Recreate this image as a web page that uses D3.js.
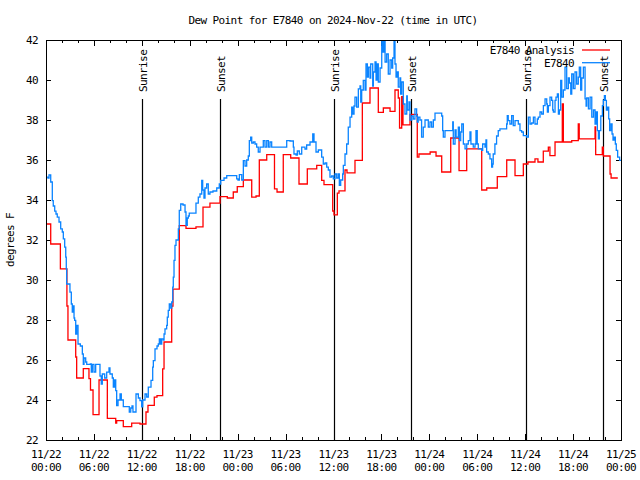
<!DOCTYPE html>
<html>
<head>
<meta charset="utf-8">
<script src="https://cdn.jsdelivr.net/npm/d3@7"></script>
<style>
  body { margin: 0; background: #fff; }
  text { font-family: "DejaVu Sans Mono", monospace; font-size: 11px; letter-spacing: -0.6px; fill: #000; }
</style>
</head>
<body>
<div id="chart"></div>
<script>
// hours since 2024-11-22 00:00 UTC
const redHours = [0, 0.59, 1.8, 2.62, 2.75, 3.72, 3.84, 4.67, 5.38, 5.57, 5.89, 6.64, 7.68, 8.73, 8.85, 9.68, 10.73, 11.77, 12.52, 12.77,
  13.56, 13.9, 14.61, 14.78, 15.74, 15.9, 16.69, 17.53, 18.78, 19.66, 20.53, 21.79, 22.7, 23.45, 23.95, 24.71, 25.76, 26.3, 26.71, 27.64,
  28.61, 28.93, 29.71, 30.64, 31.68, 32.72, 33.9, 34.52, 34.81, 35.9, 36.06, 36.48, 36.69, 37.44, 37.69, 38.69, 39.61, 40.57, 41.61, 42.24,
  43.08, 43.7, 44.11, 44.27, 44.54, 44.7, 45.58, 46.49, 46.7, 48.1, 48.84, 49.55, 50.68, 51.72, 52.68, 54.56, 55.19, 56.51, 57.69, 58.73,
  59.77, 60.35, 61.23, 61.6, 62.27, 62.9, 63.1, 63.74, 64.65, 64.78, 65.83, 66.65, 66.77, 68.75, 68.83, 69.66, 69.79, 70.63, 70.76, 71.6];
const redValues = [32.8, 31.8, 30.56, 28.7, 27.0, 26.15, 25.1, 25.57, 25.07, 24.5, 23.27, 25.0, 23.08, 22.85, 22.97, 22.67, 22.84, 22.8, 23.4, 23.73,
  24.14, 24.22, 25.56, 26.9, 28.69, 29.54, 32.72, 32.58, 32.66, 33.64, 33.84, 34.17, 34.1, 34.4, 34.67, 35.0, 34.14, 34.2, 36.0, 36.27,
  34.56, 34.4, 36.27, 36.1, 34.8, 35.56, 35.73, 34.98, 34.77, 33.45, 33.26, 34.34, 34.46, 35.5, 35.36, 35.98, 38.85, 39.6, 38.38, 38.6,
  38.43, 39.5, 39.1, 37.6, 39.17, 37.76, 38.28, 36.14, 36.3, 36.4, 36.2, 35.4, 37.1, 35.47, 36.56, 34.5, 34.6, 35.17, 36.0, 35.22,
  35.8, 35.9, 36.06, 35.9, 36.44, 36.64, 36.22, 36.9, 38.8, 36.9, 36.97, 37.8, 37.06, 37.65, 36.27, 36.64, 36.2, 35.3, 35.1, 35.1];

const blueHours = [0, 0.25, 0.38, 0.59, 0.79, 0.91, 1.09, 1.25, 1.41, 1.63, 1.84, 2.04, 2.17, 2.34, 2.47, 2.54, 2.59, 3.0, 3.17, 3.29,
  3.42, 3.51, 3.59, 3.72, 3.84, 4.01, 4.3, 4.55, 4.67, 4.76, 4.97, 5.1, 5.55, 5.67, 5.8, 6.01, 6.22, 6.76, 6.92, 7.05,
  7.35, 7.6, 7.89, 8.01, 8.3, 8.43, 8.6, 8.73, 8.85, 9.02, 9.27, 9.43, 9.68, 10.43, 10.61, 10.77, 10.89, 11.27, 11.56, 11.77,
  11.98, 12.11, 12.4, 12.61, 12.81, 13.15, 13.36, 13.44, 13.65, 13.9, 14.06, 14.19, 14.36, 14.49, 14.69, 14.78, 14.9, 15.11, 15.19, 15.31,
  15.44, 15.62, 15.74, 15.87, 15.94, 16.03, 16.15, 16.28, 16.57, 16.69, 16.87, 17.16, 17.41, 17.53, 17.69, 17.82, 17.94, 18.78, 19.07, 19.28,
  19.5, 19.62, 19.78, 19.91, 20.12, 20.32, 20.53, 20.91, 21.38, 21.7, 21.88, 22.29, 22.63, 23.88, 24.04, 24.21, 24.51, 24.71, 24.92, 25.13,
  25.33, 25.46, 25.63, 25.76, 25.96, 26.17, 26.38, 26.58, 26.8, 27.21, 27.42, 27.64, 27.85, 28.05, 28.26, 30.14, 30.55, 30.97, 31.05, 31.31,
  31.47, 31.72, 32.02, 32.43, 32.64, 33.06, 33.4, 33.56, 33.81, 34.1, 34.52, 34.72, 34.94, 35.15, 35.35, 35.56, 35.77, 35.98, 36.19, 36.4,
  36.6, 36.73, 36.9, 37.15, 37.23, 37.44, 37.65, 37.85, 38.07, 38.28, 38.4, 38.57, 38.69, 38.9, 39.11, 39.32, 39.41, 39.53, 39.73, 39.95,
  40.07, 40.24, 40.36, 40.57, 40.66, 40.91, 40.99, 41.2, 41.33, 41.49, 41.61, 41.83, 42.04, 42.17, 42.33, 42.46, 42.66, 42.86, 43.08, 43.29,
  43.41, 43.58, 43.7, 43.83, 43.99, 44.11, 44.32, 44.41, 44.54, 44.74, 44.95, 45.17, 45.24, 45.45, 45.58, 45.79, 45.99, 46.2, 46.41, 46.49,
  46.61, 46.82, 47.03, 47.24, 47.46, 47.87, 48.08, 48.29, 48.5, 48.71, 49.55, 49.67, 49.75, 49.96, 50.93, 51.0, 51.22, 51.35, 51.63, 51.76,
  51.93, 52.06, 52.26, 52.47, 52.68, 52.88, 53.09, 53.21, 53.5, 53.72, 53.84, 54.0, 54.13, 54.55, 54.68, 54.97, 55.09, 55.18, 55.38, 55.59,
  55.8, 55.92, 56.0, 56.21, 56.42, 56.63, 56.84, 57.68, 57.76, 57.88, 58.09, 58.31, 58.51, 58.73, 59.14, 59.35, 59.56, 59.77, 60.19, 60.4,
  60.61, 60.82, 61.03, 61.23, 61.52, 61.65, 61.86, 62.07, 62.28, 62.49, 62.7, 62.78, 62.9, 63.11, 63.32, 63.45, 63.53, 63.74, 63.86, 64.03,
  64.16, 64.28, 64.45, 64.58, 64.78, 64.99, 65.2, 65.41, 65.53, 65.71, 65.83, 66.03, 66.24, 66.45, 66.65, 66.78, 66.95, 67.08, 67.29, 67.5,
  67.63, 67.71, 67.92, 68.13, 68.34, 68.55, 68.75, 68.88, 69.04, 69.17, 69.29, 69.47, 69.67, 69.79, 69.92, 70.04, 70.17, 70.33, 70.46, 70.58,
  70.75, 70.88, 71.0, 71.16, 71.29, 71.41, 71.58, 71.83, 72.0];
const blueValues = [35.14, 35.1, 35.26, 34.9, 33.97, 33.7, 33.44, 33.3, 33.14, 32.9, 32.56, 32.4, 32.06, 31.64, 31.14, 30.56, 29.8, 29.39, 28.8, 28.4,
  28.7, 28.1, 27.98, 27.3, 27.73, 26.8, 26.7, 26.3, 25.78, 26.1, 25.9, 25.78, 25.8, 25.4, 25.78, 25.4, 25.78, 25.2, 24.8, 25.3,
  25.1, 25.39, 25.6, 25.3, 25.1, 24.64, 25.0, 24.47, 23.72, 24.0, 24.3, 24.0, 23.67, 23.39, 23.6, 23.7, 23.4, 24.3, 24.1, 23.97,
  23.66, 24.0, 24.3, 24.15, 24.64, 24.98, 25.64, 25.97, 26.56, 26.7, 26.8, 27.06, 26.8, 27.06, 27.0, 27.3, 27.56, 27.73, 28.14, 28.48,
  28.8, 28.6, 28.9, 29.64, 30.14, 30.98, 31.73, 32.0, 32.56, 33.48, 33.8, 33.75, 33.4, 32.73, 33.1, 33.2, 33.34, 33.84, 34.14, 34.3,
  34.98, 34.5, 34.1, 34.6, 34.8, 34.3, 34.4, 34.45, 34.6, 34.8, 34.98, 35.1, 35.22, 35.06, 35.0, 35.27, 35.0, 35.97, 35.7, 36.0,
  36.2, 36.97, 37.14, 36.85, 36.9, 36.8, 36.64, 36.4, 36.64, 36.97, 36.64, 36.97, 36.64, 36.9, 36.64, 36.97, 36.95, 36.64, 36.3, 36.25,
  36.45, 36.3, 36.64, 36.55, 36.75, 36.9, 37.3, 36.9, 36.4, 36.5, 36.14, 35.8, 35.85, 35.64, 35.5, 35.14, 35.2, 35.06, 35.3, 35.1,
  35.3, 34.73, 35.0, 35.3, 35.73, 36.3, 36.8, 37.64, 38.14, 38.64, 38.3, 38.7, 39.14, 38.64, 39.56, 39.7, 38.9, 39.5, 39.98, 39.5,
  40.8, 40.14, 40.64, 40.1, 40.8, 39.7, 40.4, 40.9, 40.0, 40.8, 39.9, 40.6, 42.0, 41.4, 42.0, 40.9, 41.3, 40.3, 41.0, 40.6,
  41.1, 42.0, 40.8, 40.14, 40.4, 39.64, 40.1, 39.3, 39.9, 38.8, 38.3, 39.2, 38.5, 38.9, 38.0, 38.2, 38.05, 38.56, 38.2, 37.9,
  38.14, 38.0, 37.14, 37.64, 38.0, 37.64, 37.9, 37.64, 38.0, 38.34, 38.2, 37.47, 37.14, 37.47, 37.9, 36.8, 37.5, 37.14, 37.64, 36.97,
  37.4, 37.8, 36.8, 36.56, 36.8, 36.97, 37.4, 36.8, 36.64, 36.8, 37.47, 36.8, 36.56, 36.48, 36.8, 36.64, 37.0, 36.4, 36.3, 36.06,
  35.64, 35.8, 36.3, 36.8, 37.2, 37.47, 37.56, 37.8, 38.22, 37.97, 37.8, 38.22, 37.72, 37.97, 37.8, 37.47, 37.4, 37.22, 37.14, 38.14,
  37.8, 37.85, 38.14, 37.8, 38.05, 38.14, 38.4, 38.3, 38.72, 39.06, 38.8, 38.4, 38.72, 39.14, 38.98, 38.5, 38.4, 38.98, 39.14, 39.3,
  38.3, 38.5, 39.98, 39.14, 39.5, 40.64, 39.57, 40.1, 39.85, 39.3, 40.3, 39.57, 40.4, 39.8, 40.14, 40.64, 39.5, 40.1, 40.64, 39.06,
  38.7, 39.1, 38.56, 39.14, 38.14, 38.5, 37.8, 38.4, 37.47, 37.06, 37.47, 38.2, 38.72, 38.98, 39.22, 38.98, 38.5, 38.64, 38.06, 37.47,
  37.8, 37.3, 37.0, 37.14, 36.8, 36.48, 36.14, 35.98, 35.98];

const sunLabels = ["Sunrise", "Sunset", "Sunrise", "Sunset", "Sunrise", "Sunset"];
const sunTimes = ["2024-11-22T12:04Z", "2024-11-22T21:50Z", "2024-11-23T12:06Z", "2024-11-23T21:44Z", "2024-11-24T12:08Z", "2024-11-24T21:47Z"];

const yTicks = [22, 24, 26, 28, 30, 32, 34, 36, 38, 40, 42];
const seriesNames = ["E7840 Analysis", "E7840"];
const seriesColors = ["#ff0000", "#0a84ff"];

const width = 640, height = 480;
const plotLeft = 46, plotRight = 621, plotTop = 40, plotBottom = 440;
const t0 = Date.UTC(2024, 10, 22);
const toDate = h => new Date(t0 + h * 3600e3);

const x = d3.scaleUtc()
    .domain([new Date(t0), toDate(72)])
    .range([plotLeft, plotRight]);
const y = d3.scaleLinear()
    .domain([22, 42])
    .range([plotBottom, plotTop]);

const svg = d3.select("#chart").append("svg")
    .attr("width", width)
    .attr("height", height);

svg.append("defs").append("clipPath").attr("id", "plot")
    .append("rect")
    .attr("x", plotLeft).attr("y", plotTop)
    .attr("width", plotRight - plotLeft).attr("height", plotBottom - plotTop);

// title and y label
svg.append("text")
    .attr("x", 333).attr("y", 24)
    .attr("text-anchor", "middle")
    .text("Dew Point for E7840 on 2024-Nov-22 (time in UTC)");

svg.append("text")
    .attr("transform", "translate(14,240) rotate(-90)")
    .attr("text-anchor", "middle")
    .text("degrees F");

// axes, ticks pointing inwards on all four sides
const major = d3.utcHour.every(6).range(new Date(t0), toDate(72.1));
const minor = d3.utcHour.every(2).range(new Date(t0), toDate(72.1));

const axisG = svg.append("g").attr("shape-rendering", "crispEdges");

axisG.append("g").attr("transform", `translate(0,${plotBottom})`)
    .call(d3.axisBottom(x).tickValues(minor).tickSize(-3).tickFormat(""));
axisG.append("g").attr("transform", `translate(0,${plotBottom})`)
    .call(d3.axisBottom(x).tickValues(major).tickSize(-6).tickFormat(""));
axisG.append("g").attr("transform", `translate(0,${plotTop})`)
    .call(d3.axisTop(x).tickValues(minor).tickSize(-3).tickFormat(""));
axisG.append("g").attr("transform", `translate(0,${plotTop})`)
    .call(d3.axisTop(x).tickValues(major).tickSize(-6).tickFormat(""));
axisG.append("g").attr("transform", `translate(${plotLeft},0)`)
    .call(d3.axisLeft(y).tickValues(yTicks).tickSize(-5).tickPadding(8));
axisG.append("g").attr("transform", `translate(${plotRight},0)`)
    .call(d3.axisRight(y).tickValues(yTicks).tickSize(-5).tickFormat(""));

axisG.selectAll(".domain").remove();
axisG.selectAll("text").attr("font-family", null).attr("font-size", null).style("font-size", "11px");
axisG.selectAll(".tick line").attr("stroke", "#000");

const fmtDay = d3.utcFormat("%m/%d");
const fmtTime = d3.utcFormat("%H:%M");
const xl = svg.append("g").selectAll("text")
    .data(major)
    .join("text")
    .attr("x", d => x(d))
    .attr("text-anchor", "middle");
xl.append("tspan").attr("x", d => x(d)).attr("y", 458).text(d => fmtDay(d));
xl.append("tspan").attr("x", d => x(d)).attr("y", 471).text(d => fmtTime(d));

// sunrise / sunset markers
const sun = svg.append("g");
sunTimes.forEach((t, i) => {
    const sx = Math.round(x(new Date(t))) + 0.5;
    sun.append("line")
        .attr("x1", sx).attr("x2", sx)
        .attr("y1", 99).attr("y2", plotBottom)
        .attr("stroke", "#000").attr("stroke-width", 1.2);
    sun.append("text")
        .attr("transform", `translate(${sx + 4},92) rotate(-90)`)
        .attr("text-anchor", "start")
        .text(sunLabels[i]);
});

// data lines
const line = d3.line()
    .x(d => x(toDate(d[0])))
    .y(d => y(d[1]))
    .curve(d3.curveStepAfter);

const plot = svg.append("g").attr("clip-path", "url(#plot)");
plot.append("path")
    .datum(d3.zip(redHours, redValues))
    .attr("d", line)
    .attr("fill", "none")
    .attr("stroke", seriesColors[0])
    .attr("stroke-width", 1.3);
plot.append("path")
    .datum(d3.zip(blueHours, blueValues))
    .attr("d", line)
    .attr("fill", "none")
    .attr("stroke", seriesColors[1])
    .attr("stroke-width", 1.3);

// frame
svg.append("rect")
    .attr("x", plotLeft + 0.5).attr("y", plotTop + 0.5)
    .attr("width", plotRight - plotLeft).attr("height", plotBottom - plotTop)
    .attr("fill", "none")
    .attr("stroke", "#000")
    .attr("shape-rendering", "crispEdges");

// legend
const legend = svg.append("g");
seriesNames.forEach((name, i) => {
    const ly = 50 + i * 12.7;
    legend.append("text")
        .attr("x", 574).attr("y", ly + 4)
        .attr("text-anchor", "end")
        .text(name);
    legend.append("line")
        .attr("x1", 582).attr("x2", 610)
        .attr("y1", ly).attr("y2", ly)
        .attr("stroke", seriesColors[i])
        .attr("stroke-width", 1.3);
});
</script>
</body>
</html>
